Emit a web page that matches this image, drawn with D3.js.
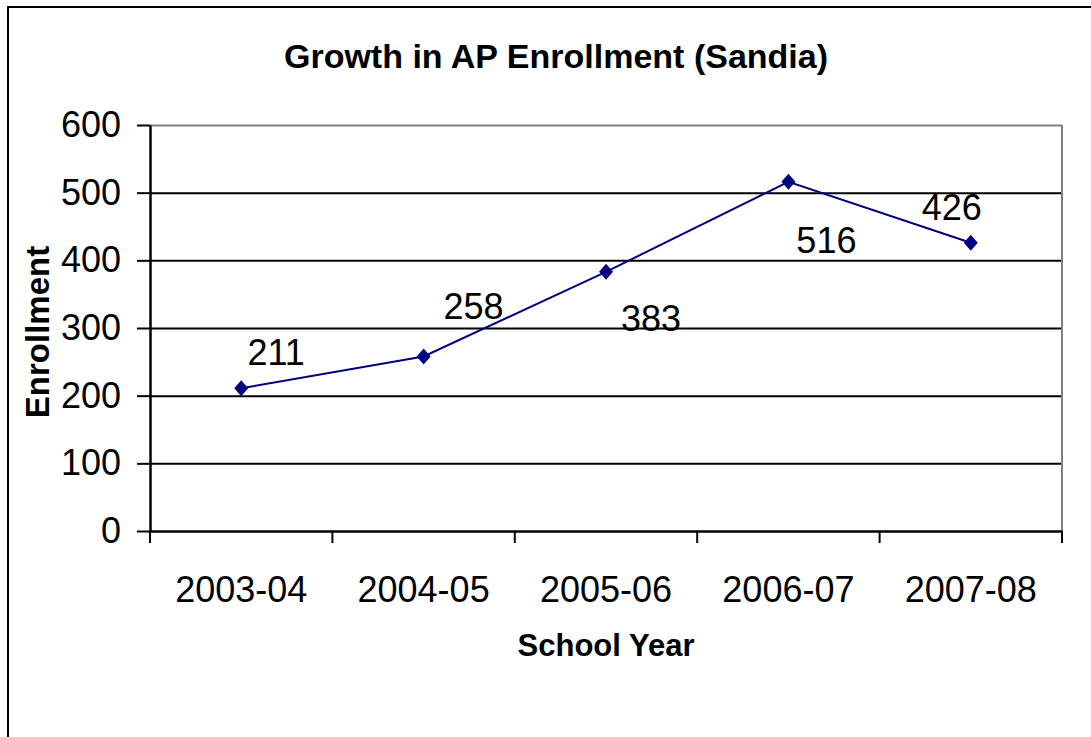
<!DOCTYPE html>
<html>
<head>
<meta charset="utf-8">
<script src="https://cdn.jsdelivr.net/npm/d3@7/dist/d3.min.js"></script>
<style>
  html, body { margin: 0; padding: 0; background: #fff; }
  svg { display: block; }
  text { font-family: "Liberation Sans", Arial, Helvetica, sans-serif; fill: #000; }
</style>
</head>
<body>
<svg id="chart" width="1091" height="737"></svg>
<script>
// ---- data ----
const categories = ["2003-04", "2004-05", "2005-06", "2006-07", "2007-08"];
const enrollment = [211, 258, 383, 516, 426];
const yTicks = [0, 100, 200, 300, 400, 500, 600];
const titleText = "Growth in AP Enrollment (Sandia)";
const xTitle = "School Year";
const yTitle = "Enrollment";

// ---- layout ----
const plot = { left: 150, right: 1062, top: 125, bottom: 531 };
// data label offsets (px) relative to each marker, mimicking original placement
const labelOffsets = [[35, -23], [50, -37], [45, 59], [38, 71], [-19, -23]];

const svg = d3.select("#chart");

// outer frame
svg.append("rect")
  .attr("x", 8).attr("y", 7).attr("width", 1200).attr("height", 900)
  .attr("fill", "none").attr("stroke", "#000").attr("stroke-width", 2);

const x = d3.scaleBand().domain(categories).range([plot.left, plot.right]).padding(0);
const y = d3.scaleLinear().domain([0, 600]).range([plot.bottom, plot.top]);

// gridlines
const grid = svg.append("g").attr("transform", `translate(${plot.left},0)`)
  .call(d3.axisLeft(y).tickValues(yTicks.filter(v => v > 0)).tickSize(-(plot.right - plot.left)).tickFormat(""));
grid.select(".domain").remove();
grid.selectAll(".tick line")
  .attr("stroke", d => d === 600 ? "#808080" : "#000")
  .attr("stroke-width", 2);

// right border of plot area
svg.append("line")
  .attr("x1", plot.right).attr("x2", plot.right)
  .attr("y1", plot.top).attr("y2", plot.bottom)
  .attr("stroke", "#808080").attr("stroke-width", 2);

// y axis
const yAxis = svg.append("g").attr("transform", `translate(${plot.left},0)`)
  .call(d3.axisLeft(y).tickValues(yTicks).tickSize(13).tickPadding(16).tickSizeOuter(0));
yAxis.select(".domain").attr("stroke", "#000").attr("stroke-width", 2.5);
yAxis.selectAll(".tick line").attr("stroke", "#000").attr("stroke-width", 2);
yAxis.selectAll(".tick text")
  .attr("font-family", "'Liberation Sans', Arial, sans-serif")
  .attr("font-size", 36).attr("fill", "#000");

// x axis
const xAxis = svg.append("g").attr("transform", `translate(0,${plot.bottom})`)
  .call(d3.axisBottom(x).tickSize(0).tickSizeOuter(0));
xAxis.select(".domain").attr("stroke", "#000").attr("stroke-width", 2.5);
xAxis.selectAll(".tick text")
  .attr("font-family", "'Liberation Sans', Arial, sans-serif")
  .attr("font-size", 36).attr("fill", "#000")
  .attr("y", 71).attr("dy", 0);
// category boundary ticks
const bounds = categories.map(c => x(c)).concat([x(categories[categories.length - 1]) + x.bandwidth()]);
xAxis.selectAll(".btick").data(bounds).enter().append("line")
  .attr("class", "btick")
  .attr("x1", d => d).attr("x2", d => d)
  .attr("y1", 0).attr("y2", 12)
  .attr("stroke", "#000").attr("stroke-width", 2);

// line series
const pts = categories.map((c, i) => ({ c, v: enrollment[i], i }));
const cx = d => x(d.c) + x.bandwidth() / 2;
svg.append("path")
  .datum(pts)
  .attr("fill", "none").attr("stroke", "#000080").attr("stroke-width", 2)
  .attr("d", d3.line().x(cx).y(d => y(d.v)));

// diamond markers
svg.selectAll(".marker").data(pts).enter().append("path")
  .attr("class", "marker")
  .attr("fill", "#000080")
  .attr("d", d => {
    const px = cx(d), py = y(d.v);
    return `M${px},${py - 8}L${px + 7},${py}L${px},${py + 8}L${px - 7},${py}Z`;
  });

// data labels
svg.selectAll(".dlabel").data(pts).enter().append("text")
  .attr("class", "dlabel")
  .attr("x", d => cx(d) + labelOffsets[d.i][0])
  .attr("y", d => y(d.v) + labelOffsets[d.i][1])
  .attr("text-anchor", "middle")
  .attr("font-size", 36)
  .text(d => d.v);

// title
svg.append("text")
  .attr("x", 556).attr("y", 68)
  .attr("text-anchor", "middle")
  .attr("font-size", 34).attr("font-weight", "bold")
  .text(titleText);

// x title
svg.append("text")
  .attr("x", (plot.left + plot.right) / 2).attr("y", 656)
  .attr("text-anchor", "middle")
  .attr("font-size", 31).attr("font-weight", "bold")
  .text(xTitle);

// y title
svg.append("text")
  .attr("transform", `translate(49,332) rotate(-90)`)
  .attr("text-anchor", "middle")
  .attr("font-size", 33).attr("font-weight", "bold")
  .text(yTitle);
</script>
</body>
</html>
